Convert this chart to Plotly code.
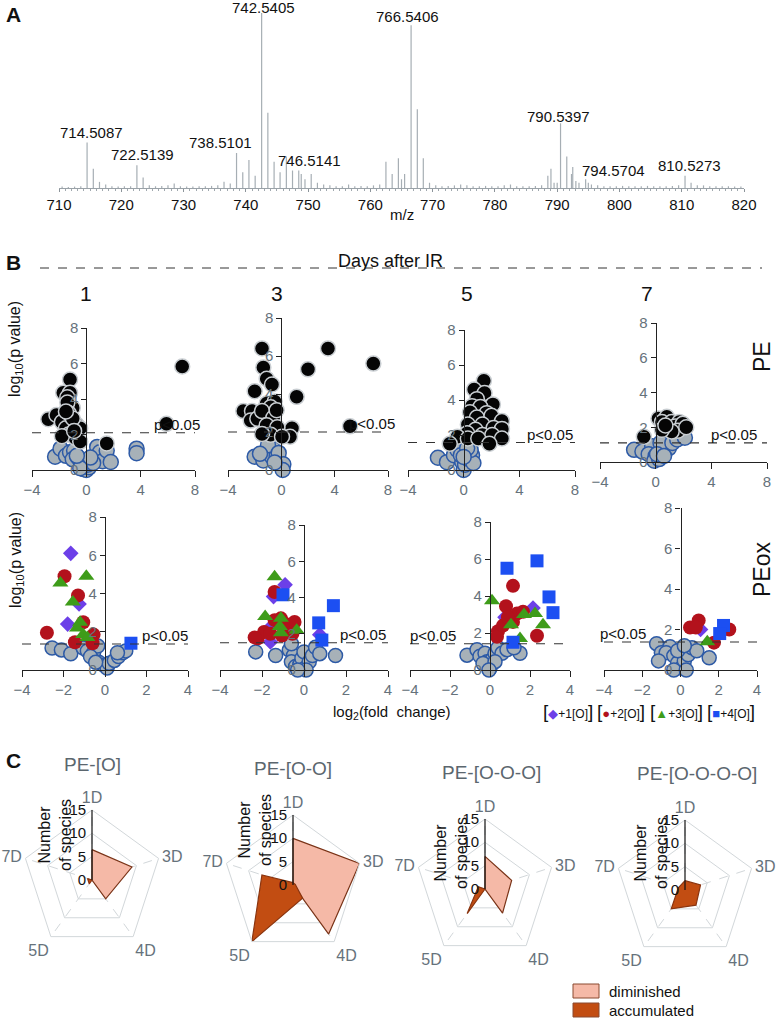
import plotly.graph_objects as go

W, H = 777, 1021
FONT = "Liberation Sans, Arial, sans-serif"
GRAYTXT = "#66727b"


def fx(p):
    return p / W


def fy(p):
    return 1 - p / H


# ---------------- Panel A : mass spectrum ----------------
spec_mz = [710.5, 711.5, 712.5, 713.5, 714.51, 715.51, 716.5, 717.5, 718.5, 719.5, 720.5, 721.5,
           722.51, 723.51, 724.5, 725.5, 726.5, 727.5, 728.5, 729.5, 730.5, 731.5, 732.5, 733.5,
           734.5, 735.5, 736.5, 737.5, 738.51, 739.51, 740.5, 741.5, 742.54, 743.54, 744.54, 745.5,
           746.51, 747.5, 748.5, 748.9, 749.5, 750.5, 751.5, 752.5, 753.5, 754.5, 755.5, 756.5,
           757.5, 758.5, 759.5, 760.5, 761.5, 762.5, 763.5, 764.5, 765.0, 765.5, 766.54, 767.54,
           768.5, 769.5, 770.5, 771.5, 772.5, 773.5, 774.5, 775.5, 776.5, 777.5, 778.5, 779.5,
           780.5, 781.5, 782.5, 783.5, 784.5, 785.5, 786.5, 787.5, 788.5, 789.0, 789.5, 790.0,
           790.54, 791.54, 792.3, 792.5, 793.0, 793.5, 794.57, 795.0, 795.5, 796.5, 797.5, 798.5,
           799.5, 800.5, 801.5, 802.5, 803.5, 804.5, 805.5, 806.5, 807.5, 808.5, 809.5, 810.53,
           811.5, 812.5, 813.5, 814.5, 815.5, 816.5, 817.5, 818.5, 819.5]
spec_int = [0.8, 0.6, 0.8, 1.0, 26, 11, 3.5, 2, 1, 0.8, 1, 1,
            13, 6, 1.5, 1, 1.2, 1.5, 2.5, 1, 0.8, 0.8, 1, 1,
            1.2, 1.5, 3.5, 2.5, 20, 9, 16, 7, 100, 43, 15, 9,
            18, 10, 10, 8, 5, 8, 3, 2, 1.5, 1, 1, 2,
            1, 1.2, 1, 1.5, 2, 15, 8, 17, 5, 8, 93, 45,
            17, 3, 1.5, 1, 1.2, 1.5, 2, 1.5, 1, 1, 1.2, 1,
            1, 1.5, 2, 1, 1, 1, 1.2, 1.5, 7, 11, 3, 3,
            37, 18, 8, 12, 4, 3, 5, 3, 2, 1.5, 1, 1,
            1, 1.2, 1, 1, 1, 1.2, 1, 1, 1, 1.2, 1.5, 7,
            3, 1.5, 1.5, 1, 1, 1, 1, 0.8, 0.8]
peak_labels = ["714.5087", "722.5139", "738.5101", "742.5405", "746.5141",
               "766.5406", "790.5397", "794.5704", "810.5273"]
mz_ticks = [710, 720, 730, 740, 750, 760, 770, 780, 790, 800, 810, 820]

# ---------------- Panel B : volcano plots ----------------
day_labels = ["1", "3", "5", "7"]

pe_black_x = [
    [7.06, 5.9, 1.5, -2.8, -2.2, -1.2, -1.7, -1.2, -1.4, -1.0, -1.4, -1.8, -1.5, -0.7, -0.45,
     -1.3, -0.8, -0.45, -1.8, -1.3, -1.0, -0.9, -1.5],
    [3.5, 6.9, 2.0, 1.15, 5.15, 0.8, 0.65, -1.45, -1.35, -1.1, -0.7, -2.0, -2.85, -2.2, -2.3,
     -1.8, -1.1, -0.5, -0.8, -1.45, -0.6, -1.1, -0.3, -0.8, 0.05, -1.45, -0.35],
    [1.45, 0.75, 1.5, 0.95, 0.6, 2.1, 1.2, 0.45, 1.65, 0.95, 2.0, 2.75, 0.3, 1.35, 2.15, 0.85,
     0.25, 2.75, 1.35, 2.05, -0.45, -1.0, 0.3, 2.75, 1.05, 1.85],
    [-0.85, 0.2, 0.8, 0.45, 1.15, 1.7, 0.95, 1.4, 1.95, 1.6, 1.15, 0.45, 2.2, 0.7],
]
pe_black_y = [
    [5.83, 2.6, 1.5, 2.86, 3.1, 5.1, 4.35, 4.35, 4.1, 3.5, 3.8, 2.7, 2.35, 2.55, 2.35,
     2.0, 1.8, 1.6, 1.9, 3.2, 2.9, 2.2, 3.3],
    [6.4, 5.6, 5.3, 3.85, 2.3, 2.2, 1.75, 6.4, 5.4, 4.8, 4.5, 4.15, 3.1, 3.1, 2.6,
     2.7, 3.5, 3.6, 3.3, 3.1, 2.75, 2.35, 2.25, 1.85, 1.75, 1.9, 3.15],
    [5.1, 4.6, 4.4, 4.05, 3.65, 3.75, 3.6, 3.3, 3.25, 3.0, 3.1, 2.8, 2.6, 2.6, 2.4, 2.3,
     2.1, 2.35, 2.0, 2.0, 1.9, 1.5, 1.8, 1.8, 1.8, 1.5],
    [1.45, 2.5, 2.6, 2.3, 2.3, 2.3, 1.95, 2.05, 2.2, 1.8, 1.75, 1.85, 2.0, 2.1],
]
pe_gray_x = [
    [-2.3, -1.9, -1.5, -1.2, -0.9, -1.0, -0.6, -0.3, -0.2, 0.0, 0.2, 0.1, 0.4, 0.6, 0.8, 1.0,
     1.2, 1.5, 1.8, 0.5, 0.3, 3.7, 3.7, -0.45, -0.7],
    [-2.0, -1.35, -1.1, -0.6, -0.7, -0.35, -1.0, -0.2, 0.15, 0.1, -1.6, -0.5],
    [-1.85, -1.2, -0.7, -0.45, -0.1, 0.0, 0.1, 0.3, -0.2, 0.6, 0.7, 0.5, 0.25, 0.0],
    [-1.55, -0.95, -0.25, -0.5, 0.0, -0.1, 0.25, 0.45, 0.7, 0.95, 0.35, 1.2, 1.55, 2.1, 0.1, 0.6],
]
pe_gray_y = [
    [0.75, 1.2, 0.8, 1.0, 1.1, 0.6, 0.7, 0.45, 0.05, 0.0, 0.15, 0.3, 0.45, 0.75, 1.3, 1.0,
     0.5, 1.1, 0.45, 0.4, 0.7, 1.2, 0.95, 0.1, 0.8],
    [0.7, 0.5, 0.95, 1.1, 0.7, 0.75, 1.3, 0.9, 0.3, 0.0, 0.85, 0.4],
    [0.7, 0.45, 0.85, 1.15, 0.45, 0.0, 0.3, 0.65, 0.85, 0.85, 0.4, 1.15, 1.25, 0.75],
    [0.7, 0.6, 0.9, 0.45, 0.35, 0.07, 0.17, 0.6, 1.0, 0.8, 1.1, 1.1, 1.3, 1.4, 0.45, 0.35],
]

ox_gray_x = [
    [-2.55, -2.1, -1.65, -1.05, -0.85, -0.55, -0.35, -0.7, -0.3, -0.05, 0.1, 0.2, 0.45, 0.65,
     0.85, 1.0, 0.6, -0.45],
    [-2.3, -1.35, -0.7, -0.5, -0.6, -0.4, -0.2, -0.1, 0.0, 0.05, 0.25, 0.4, 0.55, 0.75, 0.1,
     -0.3, 1.5, -0.6],
    [-1.15, -0.65, -0.5, -0.25, -0.15, 0.1, 0.0, -0.35, 0.25, 0.4, 0.6, 0.85, 1.5, 1.2, 0.25, -0.05],
    [-1.25, -1.0, -0.55, -0.75, -1.15, -0.35, -0.15, 0.05, 0.2, 0.4, 0.6, 0.85, -0.15, 0.2, 1.5,
     -0.35, 0.3],
]
ox_gray_y = [
    [1.15, 1.05, 0.85, 1.15, 1.0, 0.9, 1.25, 0.7, 0.4, 0.25, 0.1, 0.35, 0.5, 0.7, 0.9, 1.0, 0.9, 0.4],
    [1.0, 0.8, 1.1, 0.8, 0.45, 0.2, 0.3, 0.65, 1.0, 0.1, 0.45, 0.8, 1.25, 0.9, 0.0, 0.0, 0.8, 1.45],
    [0.8, 1.1, 0.75, 0.9, 0.45, 0.55, 0.1, 0.35, 0.9, 1.2, 0.9, 1.1, 0.9, 1.2, 0.45, 0.0],
    [1.3, 0.85, 1.15, 0.85, 0.45, 0.7, 0.35, 0.1, 0.45, 0.75, 1.1, 0.95, 0.95, 1.2, 0.6, 0.0, 0.0],
]
ox1_x = [[-1.65, -1.8, -1.25], [-0.9, -1.45, -1.6, -1.6, 0.75], [0.75, 2.15], [1.05]]
ox1_y = [[6.1, 2.4, 3.45], [4.7, 4.05, 2.35, 1.55, 1.95], [2.85, 3.35], [2.0]]
ox2_x = [[-1.95, -1.3, -2.8, -1.05, -0.55, -1.45, -0.6],
         [-1.4, -2.2, -1.9, -1.6, -1.4, -1.1, -0.9, -0.7, -0.45, -0.55, -1.05, -2.35],
         [1.15, 0.8, 0.4, 0.35, 0.65, 1.15, 1.35, 1.65, 2.35, 0.9],
         [0.5, 0.95, 0.8, 1.75, 2.55]]
ox2_y = [[4.9, 3.9, 1.95, 2.5, 1.85, 1.45, 1.4],
         [4.3, 1.75, 2.1, 2.0, 2.75, 2.85, 2.55, 2.3, 2.65, 2.0, 1.9, 1.8],
         [4.55, 3.45, 2.1, 1.8, 2.4, 2.6, 3.05, 3.15, 1.85, 2.85],
         [2.1, 2.45, 2.1, 1.35, 2.0]]
ox3_x = [[-2.15, -0.9, -1.55, -1.2, -1.35, -1.05, -0.85],
         [-1.4, -1.85, -1.1, -1.1, -0.35, -1.15],
         [0.1, 1.05, 1.7, 2.25, 2.65, 1.5],
         [1.4]]
ox3_y = [[4.55, 4.9, 3.55, 2.5, 2.2, 1.85, 1.7],
         [5.15, 2.95, 2.85, 2.05, 2.2, 2.4],
         [3.75, 2.45, 3.0, 3.05, 2.45, 1.7],
         [1.4]]
ox4_x = [[1.25], [-1.0, 1.4, 0.7, 0.85], [0.85, 2.35, 2.95, 3.15, 1.15], [2.25, 2.05]]
ox4_y = [[1.4], [4.15, 3.55, 2.6, 1.65], [5.5, 5.9, 3.95, 3.1, 1.5], [2.2, 1.8]]

p_thresh_pe = [2.1, 2.0, 1.57, 1.1]
p_thresh_ox = [1.36, 1.5, 1.42, 1.38]
ox_legend = ["+1[O]", "+2[O]", "+3[O]", "+4[O]"]

# ---------------- Panel C : radar charts ----------------
radar_titles = ["PE-[O]", "PE-[O-O]", "PE-[O-O-O]", "PE-[O-O-O-O]"]
radar_cats = ["1D", "3D", "4D", "5D", "7D"]
diminished = [[6.5, 9, 5, 0, 0], [10, 15, 13, 0, 0], [7, 6, 6.4, 0, 0], [0.5, 1.5, 2, 0, 0]]
accumulated = [[0, 0, 0, 1, 1], [0.5, 0.5, 3.5, 15, 7], [0, 0, 0, 6.5, 1.5], [2, 3.5, 4, 5, 1.5]]
radial_ticks = [0, 5, 10, 15]

# =========================================================
fig = go.Figure()
annotations = []
shapes = []


def ann(xp, yp, text, size, color="#111", **kw):
    d = dict(x=fx(xp), y=fy(yp), xref="paper", yref="paper", text=text, showarrow=False,
             xanchor="center", yanchor="middle", font=dict(size=size, color=color))
    d.update(kw)
    annotations.append(d)


# ---- spectrum
sx, sy = [], []
for m, v in zip(spec_mz, spec_int):
    sx += [m, m, None]
    sy += [0, v, None]
fig.add_trace(go.Scatter(x=sx, y=sy, mode="lines", line=dict(color="#a6aeb4", width=1.2),
                         xaxis="x", yaxis="y", hoverinfo="skip", showlegend=False))
label_dx = [4, 6, -16, 2, 23, -4, -2, 28, 4]
label_dy = [0, 0, 0, -5, -14, -2, -4, -2, 0]
for txt, dx, dy in zip(peak_labels, label_dx, label_dy):
    m = float(txt)
    idx = min(range(len(spec_mz)), key=lambda i: abs(spec_mz[i] - m))
    annotations.append(dict(x=spec_mz[idx], y=spec_int[idx], xref="x", yref="y", text=txt,
                            showarrow=False, yanchor="bottom", xanchor="center",
                            xshift=dx, yshift=dy, font=dict(size=15, color="#111")))
layout_axes = {}
layout_axes["xaxis"] = dict(domain=[fx(59), fx(744)], range=[710, 820], anchor="y",
                            tickvals=mz_ticks, ticks="outside", ticklen=3, tickcolor="#8c949a",
                            showline=True, linecolor="#9aa2a8", linewidth=1, showgrid=False,
                            zeroline=False, tickfont=dict(size=15, color="#111"),
                            minor=dict(dtick=1, ticks="outside", ticklen=2, tickcolor="#a0a8ae"))
layout_axes["yaxis"] = dict(domain=[fy(188), fy(13)], range=[0, 100], visible=False, anchor="x")
ann(402, 214, "m/z", 15)

# ---- volcano panels
pe_xdom = [(32, 195), (228, 388), (408, 575), (600, 767)]
pe_y0 = [470, 470, 470, 462]
pe_y8 = [328, 318, 330, 323]
ox_xdom = [(22, 188), (220, 388), (410, 570), (604, 757)]
ox_y0 = [670, 670, 670, 670]
ox_y8 = [517, 525, 522, 508]
ox_text_side = ["right", "right", "left", "left"]
pe_text_dx = [7, 9, 0, -8]
ox_text_dx = [2, 0, -2, -6]

black_mk = dict(color="#050505", size=15, line=dict(color="#c9ced2", width=1.5))
gray_mk = dict(color="#a7b1b8", size=15, line=dict(color="#2d5aa6", width=1.5))
gray_mk2 = dict(color="#a7b1b8", size=14, line=dict(color="#2d5aa6", width=1.5))
ox_styles = [
    dict(symbol="diamond", color="#6c3fe8", size=12),
    dict(symbol="circle", color="#b3121c", size=14),
    dict(symbol="triangle-up", color="#3e9c19", size=14),
    dict(symbol="square", color="#1c4ff2", size=13),
]


def add_axes(n, xr, xticks, xdom, y0, y8):
    xmin, xmax = xr
    x0p, x1p = xdom
    zero_px = x0p + (0 - xmin) / (xmax - xmin) * (x1p - x0p)
    layout_axes[f"xaxis{n}"] = dict(domain=[fx(x0p), fx(x1p)], range=list(xr), anchor=f"y{n}",
                                    tickvals=xticks, ticks="outside", ticklen=6,
                                    tickcolor="#222", showline=True, linecolor="#222",
                                    linewidth=1.2, showgrid=False, zeroline=False,
                                    tickfont=dict(size=15, color=GRAYTXT))
    layout_axes[f"yaxis{n}"] = dict(domain=[fy(y0), fy(y8)], range=[0, 8], anchor="free",
                                    position=fx(zero_px), side="left",
                                    tickvals=[0, 2, 4, 6, 8], ticks="outside", ticklen=5,
                                    tickcolor="#222", showline=True, linecolor="#222",
                                    linewidth=1.2, showgrid=False, zeroline=False,
                                    tickfont=dict(size=15, color=GRAYTXT))


def add_thresh(n, thr, side, dx):
    shapes.append(dict(type="line", xref=f"x{n} domain", yref=f"y{n}", x0=0, x1=1, y0=thr, y1=thr,
                       line=dict(color="#333", width=1.1, dash="dash")))
    annotations.append(dict(xref=f"x{n} domain", yref=f"y{n}", x=1 if side == "right" else 0,
                            y=thr, text="p<0.05", showarrow=False,
                            xanchor="right" if side == "right" else "left", yanchor="bottom",
                            xshift=dx, yshift=-2, font=dict(size=15, color="#111")))


for i in range(4):
    n = 2 + i
    add_axes(n, (-4, 8), [-4, 0, 4, 8], pe_xdom[i], pe_y0[i], pe_y8[i])
    fig.add_trace(go.Scatter(x=pe_gray_x[i], y=pe_gray_y[i], mode="markers", marker=gray_mk,
                             xaxis=f"x{n}", yaxis=f"y{n}", cliponaxis=False, showlegend=False))
    fig.add_trace(go.Scatter(x=pe_black_x[i], y=pe_black_y[i], mode="markers", marker=black_mk,
                             xaxis=f"x{n}", yaxis=f"y{n}", cliponaxis=False, showlegend=False))
    add_thresh(n, p_thresh_pe[i], "right", pe_text_dx[i])

ox_x = [ox1_x, ox2_x, ox3_x, ox4_x]
ox_y = [ox1_y, ox2_y, ox3_y, ox4_y]
for i in range(4):
    n = 6 + i
    add_axes(n, (-4, 4), [-4, -2, 0, 2, 4], ox_xdom[i], ox_y0[i], ox_y8[i])
    fig.add_trace(go.Scatter(x=ox_gray_x[i], y=ox_gray_y[i], mode="markers", marker=gray_mk2,
                             xaxis=f"x{n}", yaxis=f"y{n}", cliponaxis=False, showlegend=False))
    for k in range(4):
        fig.add_trace(go.Scatter(x=ox_x[k][i], y=ox_y[k][i], mode="markers",
                                 marker=dict(symbol=ox_styles[k]["symbol"],
                                             color=ox_styles[k]["color"],
                                             size=ox_styles[k]["size"], line=dict(width=0)),
                                 xaxis=f"x{n}", yaxis=f"y{n}", cliponaxis=False,
                                 showlegend=False))
    add_thresh(n, p_thresh_ox[i], ox_text_side[i], ox_text_dx[i])

# headers for panel B
shapes.append(dict(type="line", xref="paper", yref="paper", x0=fx(40), x1=fx(762), y0=fy(268),
                   y1=fy(268), line=dict(color="#333", width=1, dash="dash")))
ann(390, 261, "Days after IR", 18)
col_px = [86, 277, 467, 647]
for lab, cx in zip(day_labels, col_px):
    ann(cx, 293, lab, 21)
for cy in (349, 560):
    ann(16, cy, "log<sub>10</sub>(p value)", 16, textangle=-90)
ann(762, 357, "PE", 23, textangle=-90)
ann(762, 570, "PEox", 23, textangle=-90)
ann(392, 712, "log<sub>2</sub>(fold  change)", 15)
sym_chars = ["◆", "●", "▲", "■"]
leg_px = [568, 621, 676, 731]
for lab, ch, st, cx in zip(ox_legend, sym_chars, ox_styles, leg_px):
    ann(cx, 711, f"<span style='font-size:19px'>[</span>"
                 f"<span style='color:{st['color']};font-size:13px'>{ch}</span>"
                 f"{lab}<span style='font-size:19px'>]</span>", 12)

# panel letters
for lab, (lx, ly) in zip(["A", "B", "C"], [(13, 14), (13, 262), (13, 760)]):
    ann(lx, ly, f"<b>{lab}</b>", 21)

# ---- radar charts
rad_c = [(92, 880), (293, 885), (485, 889), (685, 890)]
R = 70
title_px = [(92, 764), (293, 768), (492, 772), (697, 773)]
ylab_off = [(-37, -45), (-38, -55), (-34, -36), (-34, -37)]
polar_layouts = {}
for i in range(4):
    cx, cy = rad_c[i]
    pname = "polar" if i == 0 else f"polar{i + 1}"
    polar_layouts[pname] = dict(
        domain=dict(x=[fx(cx - R), fx(cx + R)], y=[fy(cy + R), fy(cy - R)]),
        bgcolor="rgba(0,0,0,0)", gridshape="linear",
        angularaxis=dict(direction="clockwise", rotation=90, type="category",
                         categoryorder="array", categoryarray=radar_cats,
                         showline=True, linecolor="#d2d7da", linewidth=1,
                         showgrid=True, gridcolor="#d2d7da", griddash="dash", gridwidth=1,
                         ticks="", tickfont=dict(size=16, color=GRAYTXT)),
        radialaxis=dict(range=[0, 15], tickvals=radial_ticks, angle=90, tickangle=90,
                        side="counterclockwise", showline=True, linecolor="#111", linewidth=1.2,
                        showgrid=True, gridcolor="#d2d7da", ticks="",
                        tickfont=dict(size=15, color="#111")),
    )
    rd = diminished[i] + [diminished[i][0]]
    ra = accumulated[i] + [accumulated[i][0]]
    th = radar_cats + [radar_cats[0]]
    fig.add_trace(go.Scatterpolar(r=rd, theta=th, fill="toself", fillcolor="#f5b9a7",
                                  line=dict(color="#7a3418", width=1.2), mode="lines",
                                  subplot=pname, showlegend=False, hoverinfo="skip"))
    fig.add_trace(go.Scatterpolar(r=ra, theta=th, fill="toself", fillcolor="#c24d12",
                                  line=dict(color="#8a3510", width=1.2), mode="lines",
                                  subplot=pname, showlegend=False, hoverinfo="skip"))
    tx, ty = title_px[i]
    ann(tx, ty, radar_titles[i], 19, color="#5b666e")
    ox_, oy_ = ylab_off[i]
    ann(cx + ox_, cy + oy_, "Number<br>of species", 16, textangle=-90)

# legend for panel C
leg_items = [("diminished", "#f5b9a7", 991), ("accumulated", "#c24d12", 1010)]
for lab, col, yy in leg_items:
    shapes.append(dict(type="rect", xref="paper", yref="paper", x0=fx(573), x1=fx(599),
                       y0=fy(yy + 7), y1=fy(yy - 7), fillcolor=col,
                       line=dict(color="#8a4a30", width=1)))
    ann(607, yy, lab, 15, xanchor="left")

fig.update_layout(width=W, height=H,
                  margin=dict(l=0, r=0, t=0, b=0, pad=0, autoexpand=False),
                  paper_bgcolor="white", plot_bgcolor="rgba(0,0,0,0)",
                  font=dict(family=FONT, color="#111"), showlegend=False,
                  annotations=annotations, shapes=shapes, **layout_axes, **polar_layouts)
fig.write_html("out.html", config={"displayModeBar": False},
               post_script="document.body.style.margin='0';document.body.style.padding='0';")
